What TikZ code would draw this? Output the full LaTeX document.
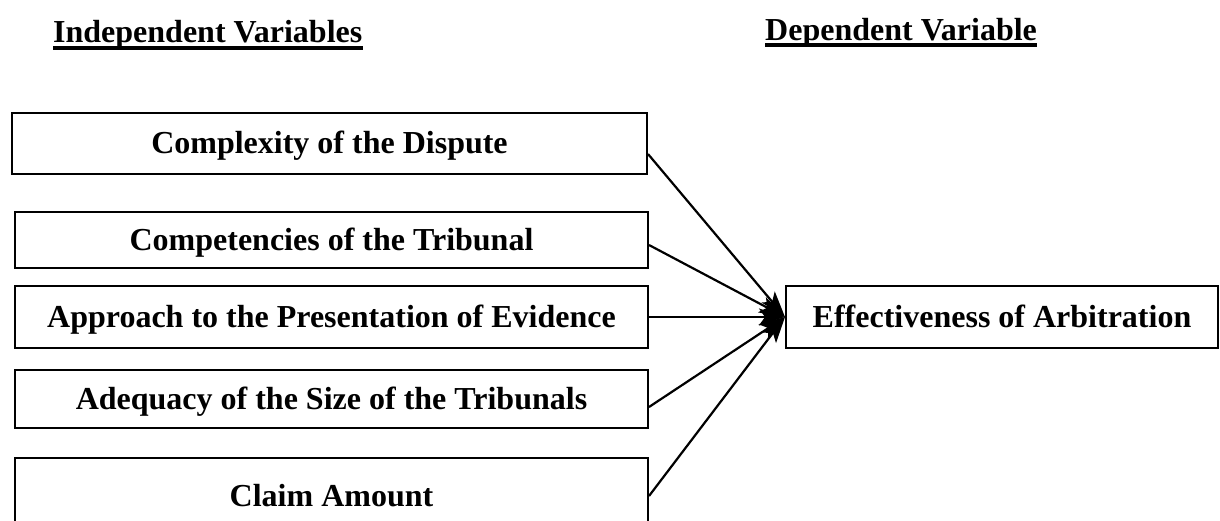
\documentclass[tikz,border=0pt]{standalone}
\usepackage{fontspec}
\setmainfont{Liberation Serif}
\usetikzlibrary{arrows.meta}
\begin{document}
\begin{tikzpicture}[x=1pt,y=-1pt,
  txt/.style={font=\fontsize{32}{38}\selectfont\bfseries},
  box/.style={txt, draw, line width=2pt, inner sep=0pt, text height=22pt, text depth=2pt},
  hdr/.style={txt, inner sep=0pt, anchor=base west},
  ul/.style={line width=3.5pt},
  conn/.style={line width=2.2pt, -{Stealth[length=26pt,width=17pt,inset=6pt]}}]
\useasboundingbox (0,0) rectangle (1220,520);
\clip (0,0) rectangle (1220,520);
% headers
\node[hdr] (h1) at (53,42) {Independent Variables};
\node[hdr] (h2) at (765,40) {Dependent Variable};
\draw[ul] ([yshift=-6pt]h1.base west) -- ([yshift=-6pt]h1.base east);
\draw[ul] ([yshift=-5pt]h2.base west) -- ([yshift=-5pt]h2.base east);
% independent variable boxes
\node[box, minimum width=635pt, minimum height=61pt] (b1) at (329.5,143.5) {Complexity of the Dispute};
\node[box, minimum width=633pt, minimum height=56pt] (b2) at (331.5,240) {Competencies of the Tribunal};
\node[box, minimum width=633pt, minimum height=62pt] (b3) at (331.5,317) {Approach to the Presentation of Evidence};
\node[box, minimum width=633pt, minimum height=58pt] (b4) at (331.5,399) {Adequacy of the Size of the Tribunals};
\node[box, minimum width=633pt, minimum height=76pt] (b5) at (331.5,496) {Claim Amount};
% dependent variable box
\node[box, minimum width=432pt, minimum height=62pt] (eff) at (1002,317) {Effectiveness of Arbitration};
% connectors
\draw[conn] ([yshift=-10.5pt]b1.east) -- (eff.west);
\draw[conn] ([yshift=-5pt]b2.east) -- (eff.west);
\draw[conn] (b3.east) -- (eff.west);
\draw[conn] ([yshift=-8pt]b4.east) -- (eff.west);
\draw[conn] (b5.east) -- (eff.west);
\end{tikzpicture}
\end{document}
